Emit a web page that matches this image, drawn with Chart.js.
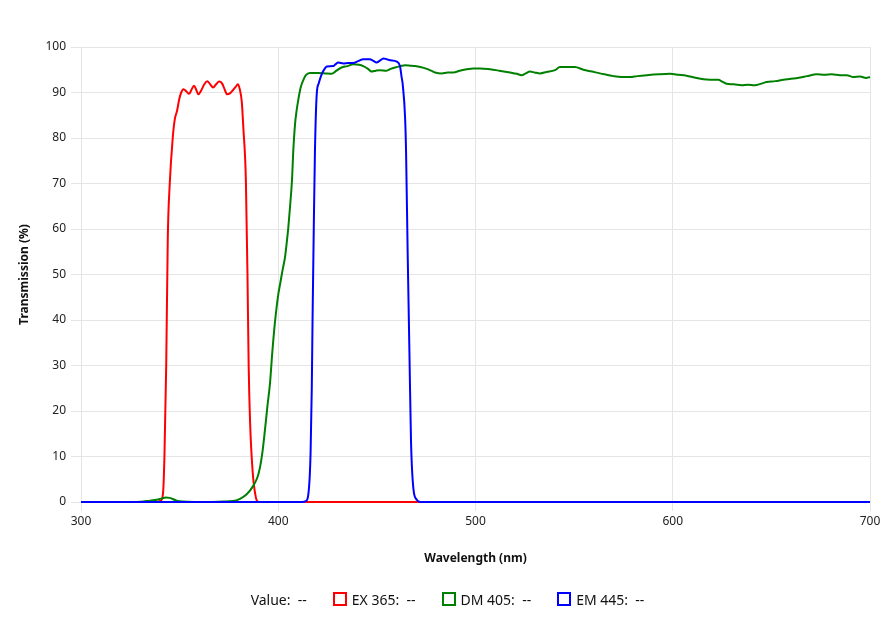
<!DOCTYPE html>
<html>
<head>
<meta charset="utf-8">
<script src="https://cdn.jsdelivr.net/npm/chart.js@4/dist/chart.umd.min.js"></script>
<style>
  html, body { margin: 0; padding: 0; background: #fff; }
  #wrap { position: relative; width: 895px; height: 623px; font-family: "Noto Sans", sans-serif; }
  #legend { position: absolute; left: 0; top: 590px; width: 895px; text-align: center; font-size: 14px; color: #111; white-space: pre; }
  #legend .item { display: inline-block; margin: 0 13px; }
  #legend .box { display: inline-block; width: 10px; height: 10px; border: 2px solid; vertical-align: -1px; margin-right: 5px; }
</style>
</head>
<body>
<div id="wrap">
  <canvas id="chart" width="895" height="623"></canvas>
  <div id="legend"></div>
</div>
<script>
// wavelength ticks
const xTicks = [300, 400, 500, 600, 700];

// EX 365 (red)
const exWl = [300, 338, 340.5, 341.6, 342.3, 343.2, 344, 345, 346.5, 347.5, 348.7, 349.8, 350.8, 352, 353.5, 354.8, 356, 357.3, 358.5, 359.5, 361, 362.5, 364, 365.5, 367, 368.5, 370, 371.5, 373, 374, 375.5, 377, 378.5, 379.5, 380.5, 381.5, 382.3, 383.6, 384.4, 385, 385.7, 387, 388.7, 390, 700];
const exT = [0, 0, 0.3, 2, 10, 30, 58, 70, 80, 84, 86, 88.5, 90, 90.7, 90.2, 89.7, 90.6, 91.5, 90.5, 89.6, 90.5, 91.8, 92.5, 91.8, 91.1, 91.8, 92.4, 92, 90.5, 89.6, 89.8, 90.5, 91.3, 91.8, 90.7, 88, 82.3, 70.5, 50, 30, 17.8, 6.8, 0.9, 0, 0];

// DM 405 (green)
const dmWl = [300, 328, 335, 338.4, 341, 343, 345, 348.5, 352, 360, 372, 377, 380.6, 384, 387.4, 389.5, 390.7, 392, 393.3, 394.5, 395.8, 397, 398.4, 400, 400.9, 402.2, 403.4, 404.3, 405.1, 406, 407, 407.6, 408.5, 409.3, 410.2, 411.3, 412.7, 414, 416, 420, 424, 427, 429.5, 432.1, 435, 438, 441, 443.1, 445.5, 447.3, 449.5, 451.5, 454.9, 457, 459.2, 462, 464.3, 467, 469.3, 472, 475.3, 477.5, 479.5, 482.9, 486, 488.8, 492, 495.5, 498.9, 502.3, 507.4, 512, 517.5, 521, 523.4, 525.5, 527.6, 530, 532.7, 536, 540.3, 542.8, 546, 550.4, 554.7, 559, 563.1, 566.5, 569.9, 574, 578.3, 582, 586.8, 593, 598.6, 603, 607, 611, 615.5, 619, 623.1, 625, 627.3, 631, 634.9, 638, 641.7, 644.5, 647.6, 652, 656.1, 660, 664.6, 668, 673, 677, 680.6, 684.8, 688.2, 691.6, 695, 698, 700];
const dmT = [0, 0, 0.3, 0.5, 0.8, 1, 0.9, 0.3, 0.1, 0, 0.1, 0.2, 0.7, 1.7, 3.6, 5.5, 7.5, 11, 16, 21, 26, 33, 39.8, 45.6, 47.8, 51, 53.7, 57, 60.3, 65, 71, 77, 83, 86, 88.5, 91, 92.7, 93.8, 94.3, 94.3, 94.2, 94.1, 94.8, 95.5, 95.8, 96.2, 96.1, 95.8, 95.2, 94.6, 94.8, 94.9, 94.8, 95.2, 95.5, 95.8, 96, 95.9, 95.8, 95.6, 95.2, 94.8, 94.4, 94.2, 94.4, 94.4, 94.8, 95.1, 95.3, 95.3, 95.1, 94.8, 94.4, 94.1, 93.8, 94.2, 94.6, 94.4, 94.2, 94.5, 94.9, 95.6, 95.6, 95.6, 95, 94.6, 94.2, 93.9, 93.6, 93.4, 93.4, 93.6, 93.8, 94, 94.1, 93.9, 93.7, 93.3, 92.9, 92.8, 92.8, 92.4, 91.9, 91.8, 91.6, 91.7, 91.6, 91.9, 92.3, 92.5, 92.8, 93, 93.3, 93.6, 94, 93.9, 94, 93.8, 93.8, 93.4, 93.5, 93.2, 93.4];

// EM 445 (blue)
const emWl = [300, 412, 414, 415.2, 416, 416.4, 417, 417.4, 418, 418.6, 419.5, 420.5, 422, 423.5, 424.6, 427.9, 429, 430.4, 433, 435.5, 438, 440.5, 443.1, 446.5, 448, 449.9, 451.5, 453.3, 455, 456.7, 460.1, 461.7, 462.5, 463.1, 464.3, 464.8, 465.6, 466.5, 467.3, 468.5, 470.2, 472, 700];
const emT = [0, 0, 0.2, 1.5, 6, 11, 25, 40.5, 60, 77, 89.6, 92, 94, 95.2, 95.7, 95.8, 96.2, 96.6, 96.4, 96.5, 96.5, 96.9, 97.3, 97.3, 97, 96.6, 97, 97.5, 97.3, 97.1, 96.8, 95.8, 93.5, 91.8, 84.5, 77, 55, 33, 13.4, 3, 0.5, 0, 0];

const seriesNames = ['EX 365', 'DM 405', 'EM 445'];
const seriesColors = ['#ff0000', '#008000', '#0000ff'];

function toPoints(xs, ys) {
    return xs.map((x, i) => ({ x: x, y: ys[i] }));
}

const gridColor = '#e5e5e5';
const fontFamily = '"Noto Sans", sans-serif';

const datasets = [
    { label: seriesNames[0], data: toPoints(exWl, exT), borderColor: seriesColors[0], order: 2 },
    { label: seriesNames[1], data: toPoints(dmWl, dmT), borderColor: seriesColors[1], order: 1 },
    { label: seriesNames[2], data: toPoints(emWl, emT), borderColor: seriesColors[2], order: 0 }
].map(d => Object.assign(d, {
    borderWidth: 2,
    pointRadius: 0,
    fill: false,
    clip: 4,
    cubicInterpolationMode: 'monotone'
}));

new Chart(document.getElementById('chart'), {
    type: 'line',
    data: { datasets: datasets },
    options: {
        responsive: false,
        animation: false,
        layout: { padding: { left: 0, right: 25, top: 47, bottom: 57 } },
        plugins: {
            legend: { display: false },
            tooltip: { enabled: false }
        },
        scales: {
            x: {
                type: 'linear',
                min: 300,
                max: 700,
                afterBuildTicks: function(s) { s.ticks = xTicks.map(v => ({ value: v })); },
                afterFit: function(s) { s.height = 64; },
                ticks: { padding: 3, color: '#222', font: { family: fontFamily, size: 12 } },
                grid: { color: gridColor, tickLength: 9 },
                border: { color: gridColor },
                title: {
                    display: true,
                    text: 'Wavelength (nm)',
                    color: '#111',
                    padding: 0,
                    font: { family: fontFamily, size: 12, weight: 'bold' }
                }
            },
            y: {
                min: 0,
                max: 100,
                afterFit: function(s) { s.width = 81; },
                ticks: { stepSize: 10, padding: 5, color: '#222', font: { family: fontFamily, size: 12 } },
                grid: { color: gridColor, tickLength: 10 },
                border: { color: gridColor },
                title: {
                    display: true,
                    text: 'Transmission (%)',
                    color: '#111',
                    padding: { top: 17, bottom: 0 },
                    font: { family: fontFamily, size: 12, weight: 'bold' }
                }
            }
        }
    }
});

// legend row below the chart
const legend = document.getElementById('legend');
let html = '<span class="item">Value:  --</span>';
seriesNames.forEach(function(name, i) {
    html += '<span class="item"><span class="box" style="border-color:' + seriesColors[i] + '"></span>' + name + ':  --</span>';
});
legend.innerHTML = html;
</script>
</body>
</html>
